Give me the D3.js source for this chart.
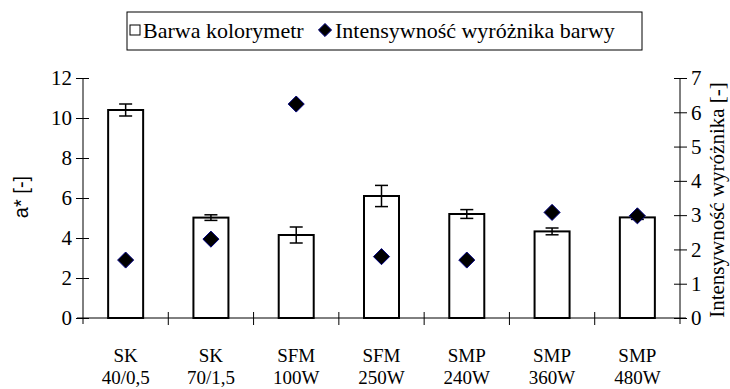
<!DOCTYPE html>
<html>
<head>
<meta charset="utf-8">
<script src="https://cdn.jsdelivr.net/npm/d3@7"></script>
<style>
  body { margin: 0; background: #fff; }
  svg text { font-family: "Liberation Serif", "Times New Roman", serif; fill: #000; }
</style>
</head>
<body>
<div id="chart"></div>
<script>
// chart data
let groups = ["SK", "SK", "SFM", "SFM", "SMP", "SMP", "SMP"];
let params = ["40/0,5", "70/1,5", "100W", "250W", "240W", "360W", "480W"];
let colorA = [10.4, 5.02, 4.15, 6.1, 5.2, 4.33, 5.03];
let colorErr = [0.3, 0.14, 0.4, 0.53, 0.22, 0.17, 0.1];
let intensity = [1.69, 2.3, 6.24, 1.79, 1.69, 3.08, 2.98];
let leftTicks = [0, 2, 4, 6, 8, 10, 12];
let rightTicks = [0, 1, 2, 3, 4, 5, 6, 7];

let width = 730, height = 389;
let plotLeft = 83, plotRight = 680, plotTop = 78, plotBottom = 318;
let serif = "'Liberation Serif', 'Times New Roman', serif";
let fs = "21px";

let svg = d3.select("#chart").append("svg")
    .attr("width", width)
    .attr("height", height);

let keys = d3.range(groups.length);
let xScale = d3.scaleBand().domain(keys).range([plotLeft, plotRight]);
let yLeft = d3.scaleLinear().domain([0, 12]).range([plotBottom, plotTop]);
let yRight = d3.scaleLinear().domain([0, 7]).range([plotBottom, plotTop]);

function center(i) { return xScale(i) + xScale.bandwidth() / 2; }

// bars
let barW = 35;
svg.append("g").selectAll("rect")
  .data(keys)
  .enter().append("rect")
    .attr("x", i => center(i) - barW / 2)
    .attr("y", i => yLeft(colorA[i]))
    .attr("width", barW)
    .attr("height", i => plotBottom - yLeft(colorA[i]))
    .attr("fill", "#fff")
    .attr("stroke", "#000")
    .attr("stroke-width", 2);

// error bars
let err = svg.append("g").attr("stroke", "#000").attr("stroke-width", 1.5);
keys.forEach(function(i) {
  let cx = center(i);
  let y1 = yLeft(colorA[i] + colorErr[i]), y2 = yLeft(colorA[i] - colorErr[i]);
  err.append("line").attr("x1", cx).attr("x2", cx).attr("y1", y1).attr("y2", y2);
  err.append("line").attr("x1", cx - 6.5).attr("x2", cx + 6.5).attr("y1", y1).attr("y2", y1);
  err.append("line").attr("x1", cx - 6.5).attr("x2", cx + 6.5).attr("y1", y2).attr("y2", y2);
});

// left axis
let axL = svg.append("g")
    .attr("transform", `translate(${plotLeft},0)`)
    .call(d3.axisLeft(yLeft).tickValues(leftTicks).tickFormat(d3.format("d"))
      .tickSizeOuter(0).tickSizeInner(6).tickPadding(5));
axL.selectAll(".tick line").attr("x1", 6).attr("x2", -7);
axL.selectAll("text").style("font-family", serif).style("font-size", fs);
axL.select(".domain").attr("d", `M0,${plotTop}V${plotBottom + 6}`);

// right axis
let axR = svg.append("g")
    .attr("transform", `translate(${plotRight},0)`)
    .call(d3.axisRight(yRight).tickValues(rightTicks).tickFormat(d3.format("d"))
      .tickSizeOuter(0).tickSizeInner(6).tickPadding(5));
axR.selectAll(".tick line").attr("x1", -6).attr("x2", 7);
axR.selectAll("text").style("font-family", serif).style("font-size", fs);
axR.select(".domain").attr("d", `M0,${plotTop}V${plotBottom + 6}`);

// bottom axis line and ticks between categories
svg.append("line")
    .attr("x1", plotLeft - 6).attr("x2", plotRight + 6)
    .attr("y1", plotBottom).attr("y2", plotBottom)
    .attr("stroke", "#000");
svg.append("g").selectAll("line")
  .data(keys.slice(1))
  .enter().append("line")
    .attr("x1", i => xScale(i)).attr("x2", i => xScale(i))
    .attr("y1", plotBottom - 6).attr("y2", plotBottom + 7)
    .attr("stroke", "#000");

// category labels
let cat = svg.append("g").selectAll("text")
  .data(keys)
  .enter().append("text")
    .attr("text-anchor", "middle")
    .style("font-family", serif)
    .style("font-size", "19px");
cat.append("tspan")
    .attr("x", center)
    .attr("y", 362)
    .text(i => groups[i]);
cat.append("tspan")
    .attr("x", center)
    .attr("y", 384)
    .text(i => params[i]);

// diamonds
let diamond = d3.symbol().type(d3.symbolDiamond2).size(165);
svg.append("g").selectAll("path")
  .data(keys)
  .enter().append("path")
    .attr("d", diamond)
    .attr("transform", i => `translate(${center(i)},${yRight(intensity[i])})`)
    .attr("fill", "#000")
    .attr("stroke", "#000080")
    .attr("stroke-width", 1);

// axis titles
svg.append("text")
    .attr("transform", `translate(28,197) rotate(-90)`)
    .attr("text-anchor", "middle")
    .style("font-family", "'Liberation Sans', Arial, sans-serif")
    .style("font-size", "20px")
    .text("a* [-]");
svg.append("text")
    .attr("transform", `translate(724,200) rotate(-90)`)
    .attr("text-anchor", "middle")
    .style("font-family", serif)
    .style("font-size", fs)
    .text("Intensywność wyróżnika [-]");

// legend
let lg = svg.append("g");
lg.append("rect")
    .attr("x", 127).attr("y", 12)
    .attr("width", 515).attr("height", 38)
    .attr("fill", "#fff").attr("stroke", "#000");
lg.append("rect")
    .attr("x", 130).attr("y", 25)
    .attr("width", 10).attr("height", 10)
    .attr("fill", "#fff").attr("stroke", "#000");
lg.append("text").attr("x", 143).attr("y", 38)
    .style("font-family", serif).style("font-size", "22px").text("Barwa kolorymetr");
lg.append("path")
    .attr("d", d3.symbol().type(d3.symbolDiamond2).size(110))
    .attr("transform", "translate(325,30)")
    .attr("fill", "#000").attr("stroke", "#000080");
lg.append("text").attr("x", 335).attr("y", 38)
    .style("font-family", serif).style("font-size", "22px").text("Intensywność wyróżnika barwy");
</script>
</body>
</html>
